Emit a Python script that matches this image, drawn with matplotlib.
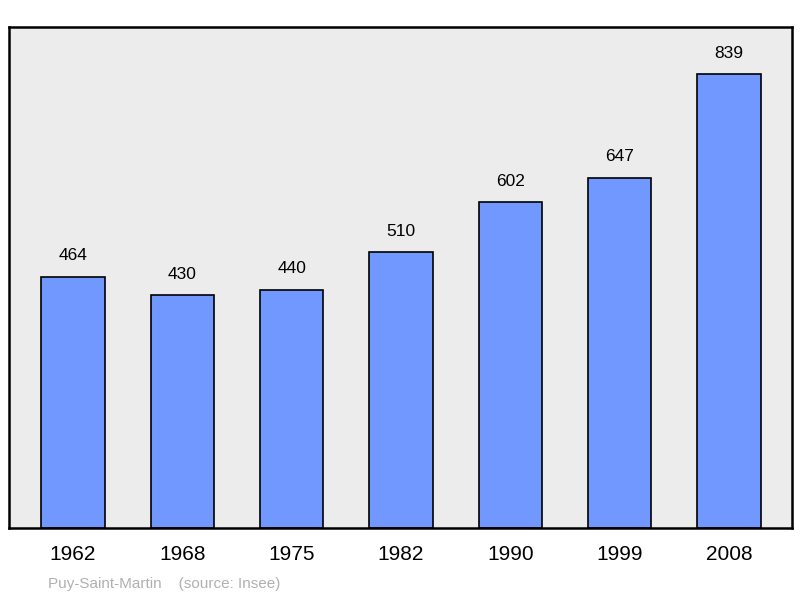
import matplotlib.pyplot as plt

years = ['1962', '1968', '1975', '1982', '1990', '1999', '2008']
population = [464, 430, 440, 510, 602, 647, 839]

plt.rcParams['font.family'] = ['Liberation Sans', 'DejaVu Sans']

fig = plt.figure(figsize=(8, 5.98), dpi=100)
ax = fig.add_axes([9 / 800, 1 - 528 / 598, 783 / 800, 501 / 598])
ax.set_facecolor('#ececec')

xs = range(len(years))
ax.bar(xs, population, width=0.58, color='#7098ff', edgecolor='black', linewidth=1.2)
for x, v in zip(xs, population):
    ax.text(x, v + 25, str(v), ha='center', va='bottom', fontsize=12.5)

ax.set_xlim(-0.585, 6.576)
ax.set_ylim(0, 926)
ax.set_yticks([])
ax.set_xticks(list(xs))
ax.set_xticklabels(years, fontsize=15)
ax.tick_params(axis='x', length=0, pad=12)
for s in ax.spines.values():
    s.set_linewidth(1.8)

fig.text(48 / 800, 1 - 584 / 598, 'Puy-Saint-Martin    (source: Insee)',
         color='#b0b0b0', fontsize=11, va='center')

fig.savefig('out.png')
